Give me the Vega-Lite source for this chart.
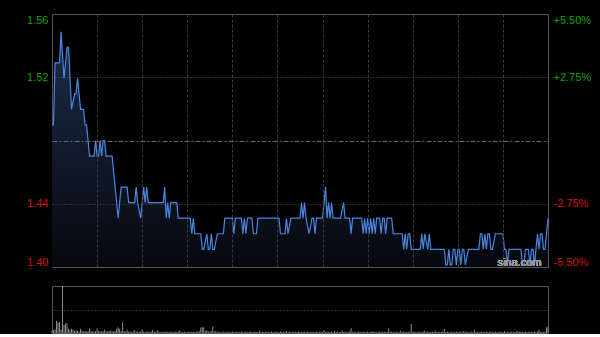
{
  "$schema": "https://vega.github.io/schema/vega-lite/v6.json",
  "padding": {"left": 0, "top": 13, "right": 0, "bottom": 0},
  "background": "#000000",
  "spacing": 19,
  "bounds": "flush",
  "config": {
    "view": {"stroke": "#555555", "strokeWidth": 1},
    "axis": {"labelFont": "Liberation Sans", "labelFontSize": 11, "titleFont": "Liberation Sans"}
  },
  "datasets": {
    "price": [
      {"t":0,"p":1.49},{"t":1,"p":1.49},{"t":2,"p":1.53},{"t":5,"p":1.53},{"t":6,"p":1.55},{"t":8,"p":1.52},{"t":10,"p":1.54},{"t":11,"p":1.54},{"t":13,"p":1.50},{"t":15,"p":1.51},{"t":16,"p":1.51},{"t":17,"p":1.52},{"t":19,"p":1.50},{"t":21,"p":1.50},{"t":22,"p":1.49},{"t":23,"p":1.49},{"t":25,"p":1.47},{"t":28,"p":1.47},{"t":29,"p":1.48},{"t":30,"p":1.47},{"t":31,"p":1.47},{"t":32,"p":1.48},{"t":33,"p":1.47},{"t":34,"p":1.48},{"t":35,"p":1.48},{"t":36,"p":1.47},{"t":40,"p":1.47},{"t":41,"p":1.46},{"t":42,"p":1.45},{"t":43,"p":1.44},{"t":44,"p":1.43},{"t":45,"p":1.44},{"t":46,"p":1.45},{"t":50,"p":1.45},{"t":51,"p":1.44},{"t":55,"p":1.44},{"t":56,"p":1.45},{"t":57,"p":1.44},{"t":59,"p":1.43},{"t":60,"p":1.44},{"t":61,"p":1.45},{"t":62,"p":1.44},{"t":63,"p":1.45},{"t":64,"p":1.44},{"t":74,"p":1.44},{"t":75,"p":1.45},{"t":76,"p":1.43},{"t":77,"p":1.44},{"t":78,"p":1.43},{"t":79,"p":1.44},{"t":83,"p":1.44},{"t":84,"p":1.43},{"t":92,"p":1.43},{"t":93,"p":1.42},{"t":94,"p":1.43},{"t":95,"p":1.42},{"t":99,"p":1.42},{"t":100,"p":1.41},{"t":101,"p":1.41},{"t":103,"p":1.42},{"t":104,"p":1.41},{"t":105,"p":1.41},{"t":106,"p":1.42},{"t":107,"p":1.41},{"t":108,"p":1.41},{"t":110,"p":1.42},{"t":114,"p":1.42},{"t":115,"p":1.43},{"t":120,"p":1.43},{"t":121,"p":1.42},{"t":122,"p":1.43},{"t":126,"p":1.43},{"t":127,"p":1.42},{"t":128,"p":1.43},{"t":129,"p":1.42},{"t":130,"p":1.43},{"t":133,"p":1.43},{"t":134,"p":1.42},{"t":136,"p":1.42},{"t":137,"p":1.43},{"t":151,"p":1.43},{"t":152,"p":1.42},{"t":155,"p":1.42},{"t":156,"p":1.43},{"t":157,"p":1.42},{"t":159,"p":1.43},{"t":165,"p":1.43},{"t":166,"p":1.44},{"t":167,"p":1.43},{"t":168,"p":1.44},{"t":169,"p":1.43},{"t":171,"p":1.42},{"t":173,"p":1.43},{"t":174,"p":1.43},{"t":175,"p":1.42},{"t":176,"p":1.43},{"t":180,"p":1.43},{"t":181,"p":1.44},{"t":182,"p":1.45},{"t":183,"p":1.43},{"t":184,"p":1.44},{"t":185,"p":1.43},{"t":186,"p":1.44},{"t":187,"p":1.43},{"t":192,"p":1.43},{"t":194,"p":1.44},{"t":195,"p":1.43},{"t":198,"p":1.43},{"t":199,"p":1.42},{"t":200,"p":1.43},{"t":206,"p":1.43},{"t":207,"p":1.42},{"t":208,"p":1.43},{"t":209,"p":1.42},{"t":210,"p":1.43},{"t":211,"p":1.42},{"t":212,"p":1.43},{"t":213,"p":1.42},{"t":214,"p":1.43},{"t":215,"p":1.42},{"t":216,"p":1.43},{"t":218,"p":1.43},{"t":219,"p":1.42},{"t":220,"p":1.43},{"t":221,"p":1.43},{"t":222,"p":1.42},{"t":223,"p":1.43},{"t":226,"p":1.43},{"t":227,"p":1.42},{"t":233,"p":1.42},{"t":234,"p":1.41},{"t":235,"p":1.42},{"t":236,"p":1.41},{"t":237,"p":1.42},{"t":238,"p":1.42},{"t":239,"p":1.41},{"t":245,"p":1.41},{"t":246,"p":1.42},{"t":247,"p":1.41},{"t":248,"p":1.42},{"t":250,"p":1.41},{"t":251,"p":1.42},{"t":252,"p":1.41},{"t":261,"p":1.41},{"t":262,"p":1.40},{"t":263,"p":1.40},{"t":264,"p":1.41},{"t":265,"p":1.40},{"t":266,"p":1.40},{"t":267,"p":1.41},{"t":268,"p":1.41},{"t":269,"p":1.40},{"t":270,"p":1.41},{"t":271,"p":1.41},{"t":272,"p":1.40},{"t":273,"p":1.41},{"t":274,"p":1.41},{"t":275,"p":1.40},{"t":277,"p":1.41},{"t":284,"p":1.41},{"t":285,"p":1.42},{"t":286,"p":1.42},{"t":287,"p":1.41},{"t":288,"p":1.42},{"t":289,"p":1.41},{"t":290,"p":1.42},{"t":291,"p":1.42},{"t":292,"p":1.41},{"t":293,"p":1.41},{"t":295,"p":1.42},{"t":300,"p":1.42},{"t":301,"p":1.41},{"t":302,"p":1.41},{"t":303,"p":1.40},{"t":304,"p":1.41},{"t":312,"p":1.41},{"t":313,"p":1.40},{"t":314,"p":1.40},{"t":315,"p":1.41},{"t":317,"p":1.41},{"t":318,"p":1.40},{"t":319,"p":1.41},{"t":320,"p":1.41},{"t":321,"p":1.40},{"t":322,"p":1.41},{"t":323,"p":1.42},{"t":324,"p":1.41},{"t":325,"p":1.42},{"t":326,"p":1.42},{"t":327,"p":1.41},{"t":328,"p":1.41},{"t":330,"p":1.43}
    ],
    "vol": [
      {"t":0,"v":4},{"t":1,"v":6},{"t":2,"v":8},{"t":3,"v":26},{"t":4,"v":22},{"t":5,"v":23},{"t":6,"v":8},{"t":7,"v":100},{"t":8,"v":17},{"t":9,"v":20},
      {"t":10,"v":21},{"t":11,"v":9},{"t":12,"v":6},{"t":13,"v":9},{"t":14,"v":7},{"t":15,"v":4},{"t":16,"v":5},{"t":17,"v":5},{"t":18,"v":3},{"t":19,"v":9},
      {"t":20,"v":5},{"t":21,"v":3},{"t":22,"v":4},{"t":23,"v":3},{"t":24,"v":4},{"t":25,"v":9},{"t":26,"v":4},{"t":27,"v":3},{"t":28,"v":3},{"t":29,"v":4},
      {"t":30,"v":10},{"t":31,"v":4},{"t":32,"v":3},{"t":33,"v":3},{"t":34,"v":4},{"t":35,"v":7},{"t":36,"v":3},{"t":37,"v":3},{"t":38,"v":4},{"t":39,"v":5},
      {"t":40,"v":3},{"t":41,"v":3},{"t":42,"v":4},{"t":43,"v":9},{"t":44,"v":12},{"t":45,"v":9},{"t":46,"v":4},{"t":47,"v":23},{"t":48,"v":4},{"t":49,"v":3},
      {"t":50,"v":7},{"t":51,"v":3},{"t":52,"v":3},{"t":53,"v":2},{"t":54,"v":3},{"t":55,"v":6},{"t":56,"v":3},{"t":57,"v":3},{"t":58,"v":2},{"t":59,"v":3},
      {"t":60,"v":8},{"t":61,"v":3},{"t":62,"v":2},{"t":63,"v":3},{"t":64,"v":3},{"t":65,"v":2},{"t":66,"v":3},{"t":67,"v":7},{"t":68,"v":3},{"t":69,"v":2},
      {"t":70,"v":6},{"t":71,"v":3},{"t":72,"v":2},{"t":73,"v":2},{"t":74,"v":3},{"t":75,"v":2},{"t":76,"v":3},{"t":77,"v":2},{"t":78,"v":2},{"t":79,"v":3},
      {"t":80,"v":2},{"t":81,"v":2},{"t":82,"v":3},{"t":83,"v":2},{"t":84,"v":3},{"t":85,"v":5},{"t":86,"v":2},{"t":87,"v":2},{"t":88,"v":3},{"t":89,"v":2},
      {"t":90,"v":2},{"t":91,"v":3},{"t":92,"v":2},{"t":93,"v":3},{"t":94,"v":2},{"t":95,"v":2},{"t":96,"v":3},{"t":97,"v":3},{"t":98,"v":4},{"t":99,"v":12},
      {"t":100,"v":12},{"t":101,"v":12},{"t":102,"v":4},{"t":103,"v":6},{"t":104,"v":3},{"t":105,"v":3},{"t":106,"v":4},{"t":107,"v":14},{"t":108,"v":3},{"t":109,"v":5},
      {"t":110,"v":2},{"t":111,"v":3},{"t":112,"v":2},{"t":113,"v":2},{"t":114,"v":3},{"t":115,"v":2},{"t":116,"v":2},{"t":117,"v":3},{"t":118,"v":2},{"t":119,"v":2},
      {"t":120,"v":3},{"t":121,"v":2},{"t":122,"v":2},{"t":123,"v":3},{"t":124,"v":2},{"t":125,"v":2},{"t":126,"v":3},{"t":127,"v":2},{"t":128,"v":2},{"t":129,"v":3},
      {"t":130,"v":2},{"t":131,"v":2},{"t":132,"v":3},{"t":133,"v":2},{"t":134,"v":2},{"t":135,"v":3},{"t":136,"v":2},{"t":137,"v":2},{"t":138,"v":5},{"t":139,"v":2},
      {"t":140,"v":3},{"t":141,"v":2},{"t":142,"v":2},{"t":143,"v":3},{"t":144,"v":2},{"t":145,"v":2},{"t":146,"v":3},{"t":147,"v":2},{"t":148,"v":2},{"t":149,"v":3},
      {"t":150,"v":2},{"t":151,"v":2},{"t":152,"v":3},{"t":153,"v":2},{"t":154,"v":2},{"t":155,"v":3},{"t":156,"v":4},{"t":157,"v":2},{"t":158,"v":3},{"t":159,"v":2},
      {"t":160,"v":2},{"t":161,"v":3},{"t":162,"v":2},{"t":163,"v":2},{"t":164,"v":3},{"t":165,"v":2},{"t":166,"v":2},{"t":167,"v":3},{"t":168,"v":2},{"t":169,"v":2},
      {"t":170,"v":3},{"t":171,"v":2},{"t":172,"v":2},{"t":173,"v":3},{"t":174,"v":2},{"t":175,"v":2},{"t":176,"v":3},{"t":177,"v":2},{"t":178,"v":2},{"t":179,"v":3},
      {"t":180,"v":2},{"t":181,"v":6},{"t":182,"v":2},{"t":183,"v":3},{"t":184,"v":2},{"t":185,"v":2},{"t":186,"v":3},{"t":187,"v":2},{"t":188,"v":5},{"t":189,"v":2},
      {"t":190,"v":3},{"t":191,"v":2},{"t":192,"v":2},{"t":193,"v":5},{"t":194,"v":2},{"t":195,"v":3},{"t":196,"v":2},{"t":197,"v":2},{"t":198,"v":3},{"t":199,"v":10},
      {"t":200,"v":2},{"t":201,"v":3},{"t":202,"v":2},{"t":203,"v":2},{"t":204,"v":3},{"t":205,"v":2},{"t":206,"v":2},{"t":207,"v":3},{"t":208,"v":2},{"t":209,"v":2},
      {"t":210,"v":3},{"t":211,"v":2},{"t":212,"v":2},{"t":213,"v":4},{"t":214,"v":2},{"t":215,"v":3},{"t":216,"v":2},{"t":217,"v":2},{"t":218,"v":3},{"t":219,"v":2},
      {"t":220,"v":2},{"t":221,"v":3},{"t":222,"v":2},{"t":223,"v":2},{"t":224,"v":10},{"t":225,"v":2},{"t":226,"v":3},{"t":227,"v":2},{"t":228,"v":2},{"t":229,"v":3},
      {"t":230,"v":2},{"t":231,"v":2},{"t":232,"v":5},{"t":233,"v":2},{"t":234,"v":3},{"t":235,"v":2},{"t":236,"v":2},{"t":237,"v":3},{"t":238,"v":2},{"t":239,"v":19},
      {"t":240,"v":2},{"t":241,"v":3},{"t":242,"v":2},{"t":243,"v":2},{"t":244,"v":3},{"t":245,"v":2},{"t":246,"v":2},{"t":247,"v":3},{"t":248,"v":5},{"t":249,"v":2},
      {"t":250,"v":3},{"t":251,"v":2},{"t":252,"v":2},{"t":253,"v":3},{"t":254,"v":2},{"t":255,"v":5},{"t":256,"v":2},{"t":257,"v":3},{"t":258,"v":2},{"t":259,"v":2},
      {"t":260,"v":3},{"t":261,"v":9},{"t":262,"v":2},{"t":263,"v":3},{"t":264,"v":2},{"t":265,"v":2},{"t":266,"v":3},{"t":267,"v":2},{"t":268,"v":2},{"t":269,"v":3},
      {"t":270,"v":2},{"t":271,"v":2},{"t":272,"v":3},{"t":273,"v":2},{"t":274,"v":5},{"t":275,"v":2},{"t":276,"v":3},{"t":277,"v":2},{"t":278,"v":2},{"t":279,"v":3},
      {"t":280,"v":2},{"t":281,"v":7},{"t":282,"v":2},{"t":283,"v":3},{"t":284,"v":2},{"t":285,"v":2},{"t":286,"v":3},{"t":287,"v":2},{"t":288,"v":2},{"t":289,"v":3},
      {"t":290,"v":2},{"t":291,"v":2},{"t":292,"v":3},{"t":293,"v":2},{"t":294,"v":2},{"t":295,"v":3},{"t":296,"v":2},{"t":297,"v":2},{"t":298,"v":3},{"t":299,"v":2},
      {"t":300,"v":2},{"t":301,"v":4},{"t":302,"v":2},{"t":303,"v":3},{"t":304,"v":2},{"t":305,"v":2},{"t":306,"v":3},{"t":307,"v":2},{"t":308,"v":2},{"t":309,"v":3},
      {"t":310,"v":4},{"t":311,"v":2},{"t":312,"v":3},{"t":313,"v":2},{"t":314,"v":2},{"t":315,"v":3},{"t":316,"v":2},{"t":317,"v":2},{"t":318,"v":3},{"t":319,"v":2},
      {"t":320,"v":2},{"t":321,"v":3},{"t":322,"v":2},{"t":323,"v":3},{"t":324,"v":7},{"t":325,"v":2},{"t":326,"v":3},{"t":327,"v":2},{"t":328,"v":3},{"t":329,"v":12},
      {"t":330,"v":14}
    ]
  },
  "vconcat": [
    {
      "width": 496,
      "height": 253,
      "data": {"name": "price"},
      "layer": [
        {
          "mark": {"type": "area", "clip": true, "interpolate": "linear", "zindex": 0,
            "color": {"gradient": "linear", "x1": 0, "y1": 0, "x2": 0, "y2": 1,
              "stops": [{"offset": 0, "color": "#1c2c4a"}, {"offset": 1, "color": "#06080e"}]}},
          "encoding": {
            "x": {"field": "t", "type": "quantitative",
              "scale": {"domain": [0, 330], "nice": false, "zero": false},
              "axis": {"zindex": 1, "values": [30, 60, 90, 120, 150, 180, 210, 240, 270, 300], "grid": true, "gridColor": "#3a3a3a", "gridDash": [3, 2], "labels": false, "ticks": false, "domain": false, "title": null}},
            "y": {"field": "p", "type": "quantitative",
              "scale": {"domain": [1.3986, 1.5614], "nice": false, "zero": false},
              "axis": {"zindex": 1, "orient": "left", "title": null, "values": [1.3986, 1.4393, 1.48, 1.5207, 1.5614],
                "labelExpr": "datum.value == 1.48 ? '' : format(datum.value, '.2f')",
                "labelColor": {"condition": {"test": "datum.value > 1.48", "value": "#10a010"}, "value": "#d01212"},
                "labelFlush": true, "labelPadding": 4, "ticks": false, "domain": false,
                "minExtent": 51, "maxExtent": 51,
                "grid": true,
                "gridColor": {"condition": {"test": "datum.value == 1.48", "value": "#6a6a6a"}, "value": "#555555"},
                "gridDash": {"condition": {"test": "datum.value == 1.48", "value": [5, 2, 2, 2]}, "value": [1, 2]},
                "gridOpacity": {"condition": {"test": "datum.value < 1.4 || datum.value > 1.56", "value": 0}, "value": 1}}},
            "y2": {"datum": 1.3986}
          }
        },
        {
          "mark": {"type": "line", "color": "#4a86e0", "strokeWidth": 1.2, "interpolate": "linear", "zindex": 2},
          "encoding": {
            "x": {"field": "t", "type": "quantitative"},
            "y": {"field": "p", "type": "quantitative",
              "axis": {"orient": "right", "title": null, "values": [1.3986, 1.4393, 1.48, 1.5207, 1.5614],
                "labelExpr": "datum.value == 1.48 ? '' : (datum.value > 1.48 ? '+' : '-') + format(abs(datum.value / 1.48 - 1) * 100, '.2f') + '%'",
                "labelColor": {"condition": {"test": "datum.value > 1.48", "value": "#10a010"}, "value": "#d01212"},
                "labelFlush": true, "labelPadding": 5, "ticks": false, "domain": false, "grid": false,
                "minExtent": 52, "maxExtent": 52}}
          }
        },
        {
          "mark": {"type": "text", "text": "sina.com", "font": "Liberation Sans", "fontSize": 11, "color": "#9a9a9a", "opacity": 0.85, "align": "center", "baseline": "middle", "zindex": 3},
          "encoding": {
            "x": {"datum": 311, "type": "quantitative"},
            "y": {"datum": 1.4012, "type": "quantitative", "axis": null}
          }
        }
      ],
      "resolve": {"axis": {"y": "independent"}}
    },
    {
      "width": 496,
      "height": 47,
      "data": {"name": "vol"},
      "mark": {"type": "rule", "color": "#8c8c8c", "strokeWidth": 1},
      "encoding": {
        "x": {"field": "t", "type": "quantitative",
          "scale": {"domain": [0, 330], "nice": false, "zero": false}, "axis": null},
        "y": {"field": "v", "type": "quantitative",
          "scale": {"domain": [0, 100], "nice": false},
          "axis": {"values": [50], "grid": true, "gridColor": "#555555", "gridDash": [1, 2], "labels": false, "ticks": false, "domain": false, "title": null}},
        "y2": {"datum": 0}
      }
    }
  ]
}
